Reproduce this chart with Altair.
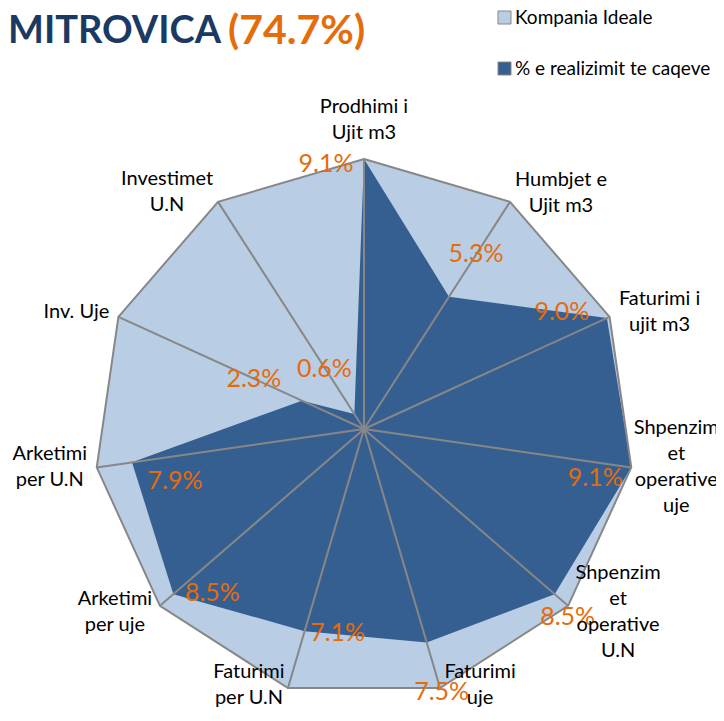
import json
import altair as alt
import pandas as pd

# ---------------- data ----------------
categories = [
    "Prodhimi i\nUjit m3",
    "Humbjet e\nUjit m3",
    "Faturimi i\nujit m3",
    "Shpenzim\net\noperative\nuje",
    "Shpenzim\net\noperative\nU.N",
    "Faturimi\nuje",
    "Faturimi\nper U.N",
    "Arketimi\nper uje",
    "Arketimi\nper U.N",
    "Inv. Uje",
    "Investimet\nU.N",
]
ideal = [9.1, 9.1, 9.1, 9.1, 9.1, 9.1, 9.1, 9.1, 9.1, 9.1, 9.1]
actual = [9.1, 5.3, 9.0, 9.1, 8.5, 7.5, 7.1, 8.5, 7.9, 2.3, 0.6]
value_labels = ["9.1%", "5.3%", "9.0%", "9.1%", "8.5%", "7.5%", "7.1%", "8.5%", "7.9%", "2.3%", "0.6%"]
series_names = ["Kompania Ideale", "% e realizimit te caqeve"]
title_name = "MITROVICA"
title_total = "(74.7%)"

# ---------------- styles / layout ----------------
LIGHT = "#B9CDE5"
DARK = "#365F91"
GRAY = "#878787"
ORANGE = "#E46C0A"
NAVY = "#1B3A63"
FONT = "Lato"

W, H = 708, 700          # plot area
CX, CY = 356, 421        # centre of the radar in plot pixels
R = 270                  # radius in pixels of the full value
FULL = max(ideal)
k = R / FULL
LH = 26                  # line height of category labels

# desired centre of each text block relative to its vertex (pixels)
cat_off = [(0, -39), (51, -9), (50, -5), (45, 0), (50, 6), (40, -3),
           (-39, -3), (-45, 6), (-47, 0), (-42, -5), (-51, -10)]
val_off = [(-38, 5), (27, -43), (-45, -6), (-36, 11), (13, 23), (15, 49),
           (33, 2), (39, -1), (43, 19), (-48, -22), (-30, -45)]

n = len(categories)
df = pd.DataFrame({
    "i": list(range(n)),
    "cat": categories,
    "ideal": ideal,
    "actual": actual,
    "label": value_labels,
})

xs = alt.Scale(domain=[-CX / k, (W - CX) / k], nice=False, zero=False)
ys = alt.Scale(domain=[-(H - CY) / k, CY / k], nice=False, zero=False)


def X(f):
    return alt.X(f"{f}:Q", scale=xs, axis=None)


def Y(f):
    return alt.Y(f"{f}:Q", scale=ys, axis=None)


base = alt.Chart(df).transform_calculate(
    a=f"datum.i * 2 * PI / {n}",
).transform_calculate(
    ox="datum.ideal * sin(datum.a)",
    oy="datum.ideal * cos(datum.a)",
    ax="datum.actual * sin(datum.a)",
    ay="datum.actual * cos(datum.a)",
    z="0",
)

fill_scale = alt.Scale(domain=series_names, range=[LIGHT, DARK])
legend = alt.Legend(
    title=None, orient="none", legendX=487, legendY=0,
    symbolType="square", symbolSize=169,
    symbolStrokeColor=GRAY, symbolStrokeWidth=1,
    labelFont=FONT, labelFontSize=19, labelColor="black",
    labelOffset=1, labelLimit=500, rowPadding=31, padding=0,
)

outer_fill = base.transform_calculate(series=json.dumps(series_names[0])).mark_line(
    interpolate="linear-closed", strokeWidth=0, strokeOpacity=0
).encode(
    x=X("ox"), y=Y("oy"), order=alt.Order("i:Q"),
    fill=alt.Fill("series:N", scale=fill_scale, legend=legend),
)

inner_fill = base.transform_calculate(series=json.dumps(series_names[1])).mark_line(
    interpolate="linear-closed", strokeWidth=0, strokeOpacity=0
).encode(
    x=X("ax"), y=Y("ay"), order=alt.Order("i:Q"),
    fill=alt.Fill("series:N", scale=fill_scale, legend=legend),
)

border = base.mark_line(
    interpolate="linear-closed", stroke=GRAY, strokeWidth=2
).encode(x=X("ox"), y=Y("oy"), order=alt.Order("i:Q"))

spokes = base.mark_rule(color=GRAY, strokeWidth=2).encode(
    x=X("z"), y=Y("z"), x2="ox:Q", y2="oy:Q"
)

dot = alt.Chart(pd.DataFrame({"z": [0]})).mark_point(
    filled=True, color=GRAY, size=45, opacity=1
).encode(x=X("z"), y=Y("z"))

layers = [outer_fill, inner_fill, border, spokes, dot]

for i in range(n):
    dx, dy = val_off[i]
    layers.append(
        base.transform_filter(f"datum.i == {i}").mark_text(
            dx=dx, dy=dy, color=ORANGE, font=FONT, fontSize=25,
            align="center", baseline="middle",
        ).encode(x=X("ax"), y=Y("ay"), text="label:N")
    )

for i in range(n):
    dx, dy = cat_off[i]
    nlines = categories[i].count("\n") + 1
    dy_first = dy - (nlines - 1) * LH / 2   # vega anchors the first line
    layers.append(
        base.transform_filter(f"datum.i == {i}").mark_text(
            dx=dx, dy=dy_first, color="black", font=FONT, fontSize=20,
            align="center", baseline="middle", lineBreak="\n", lineHeight=LH,
        ).encode(x=X("ox"), y=Y("oy"), text="cat:N")
    )

title_df = pd.DataFrame({"name": [title_name], "total": [title_total]})
layers.append(
    alt.Chart(title_df).mark_text(
        align="left", baseline="alphabetic", font=FONT, fontWeight="bold",
        fontSize=38, color=NAVY,
    ).encode(x=alt.value(0), y=alt.value(35), text="name:N")
)
layers.append(
    alt.Chart(title_df).mark_text(
        align="left", baseline="alphabetic", font=FONT, fontWeight="bold",
        fontSize=41, color=ORANGE,
    ).encode(x=alt.value(220), y=alt.value(36), text="total:N")
)

chart = alt.layer(*layers).properties(
    width=W, height=H, padding=0, autosize="none"
).configure_view(stroke=None)

chart.save("out.html", embed_options={"renderer": "svg", "actions": False})
